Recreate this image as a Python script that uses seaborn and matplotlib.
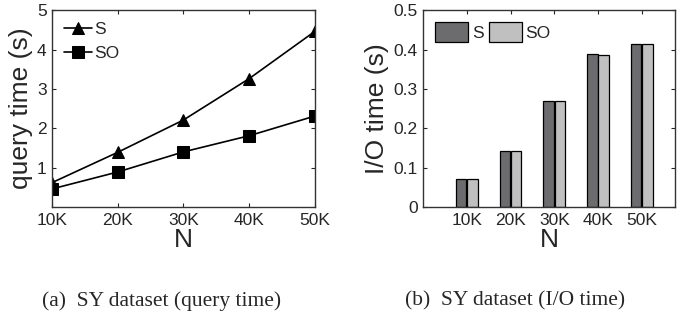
import pandas as pd
import seaborn as sns
import matplotlib.pyplot as plt

# data
n_labels = ["10K", "20K", "30K", "40K", "50K"]
n_values = [10, 20, 30, 40, 50]
query_S = [0.62, 1.39, 2.21, 3.26, 4.46]
query_SO = [0.46, 0.89, 1.40, 1.81, 2.31]
io_S = [0.072, 0.142, 0.269, 0.389, 0.415]
io_SO = [0.072, 0.142, 0.269, 0.387, 0.415]
methods = ["S", "SO"]
bar_colors = ["#6b6b70", "#c0c0c0"]

sns.set_style("ticks")
plt.rcParams["font.family"] = ["Liberation Sans", "DejaVu Sans"]
plt.rcParams["xtick.direction"] = "in"
plt.rcParams["ytick.direction"] = "in"

fig = plt.figure(figsize=(6.77, 3.17), dpi=100)
ax1 = fig.add_axes([0.077, 0.347, 0.388, 0.621])
ax2 = fig.add_axes([0.625, 0.347, 0.372, 0.621])

# (a) query time, line chart
q = pd.DataFrame({"N": n_values * 2,
                  "time": query_S + query_SO,
                  "method": ["S"] * 5 + ["SO"] * 5})
sns.lineplot(data=q, x="N", y="time", hue="method", style="method",
             markers={"S": "^", "SO": "s"}, dashes=False,
             palette=["black", "black"], markersize=9, linewidth=1.2,
             markeredgecolor="black", ax=ax1)
ax1.set_xlim(10, 50)
ax1.set_ylim(0, 5)
ax1.set_xticks(n_values)
ax1.set_xticklabels(n_labels)
ax1.set_yticks([1, 2, 3, 4, 5])
ax1.set_xlabel("N", fontsize=19, labelpad=0)
ax1.set_ylabel("query time (s)", fontsize=19, labelpad=3)
ax1.legend(loc="upper left", frameon=False, fontsize=12.5,
           handlelength=1.6, handletextpad=0.1, borderaxespad=0.3,
           labelspacing=0.5)

# (b) I/O time, grouped bars
io = pd.DataFrame({"N": n_labels * 2,
                   "time": io_S + io_SO,
                   "method": ["S"] * 5 + ["SO"] * 5})
sns.barplot(data=io, x="N", y="time", hue="method", palette=bar_colors,
            width=0.52, gap=0.08, edgecolor="black", linewidth=0.9,
            ax=ax2)
ax2.set_xlim(-1, 4.76)
ax2.set_ylim(0, 0.5)
ax2.set_yticks([0, 0.1, 0.2, 0.3, 0.4, 0.5])
ax2.set_yticklabels(["0", "0.1", "0.2", "0.3", "0.4", "0.5"])
ax2.set_xlabel("N", fontsize=19, labelpad=0)
ax2.set_ylabel("I/O time (s)", fontsize=19, labelpad=3)
ax2.legend(loc="upper left", ncol=2, frameon=False, fontsize=12.5,
           handlelength=1.9, handleheight=1.4, handletextpad=0.2,
           columnspacing=0.3, borderaxespad=0.3)

for ax in (ax1, ax2):
    ax.tick_params(labelsize=12.5, length=3, width=0.8, top=True,
                   right=True, pad=4)
    for s in ax.spines.values():
        s.set_linewidth(1.0)
        s.set_color("#333333")

fig.text(162 / 677, 1 - 301 / 317, "(a)  SY dataset (query time)",
         family="Liberation Serif", fontsize=15.5, ha="center", va="center")
fig.text(515 / 677, 1 - 301 / 317, "(b)  SY dataset (I/O time)",
         family="Liberation Serif", fontsize=15.5, ha="center", va="center")

fig.savefig("out.png", dpi=100)
